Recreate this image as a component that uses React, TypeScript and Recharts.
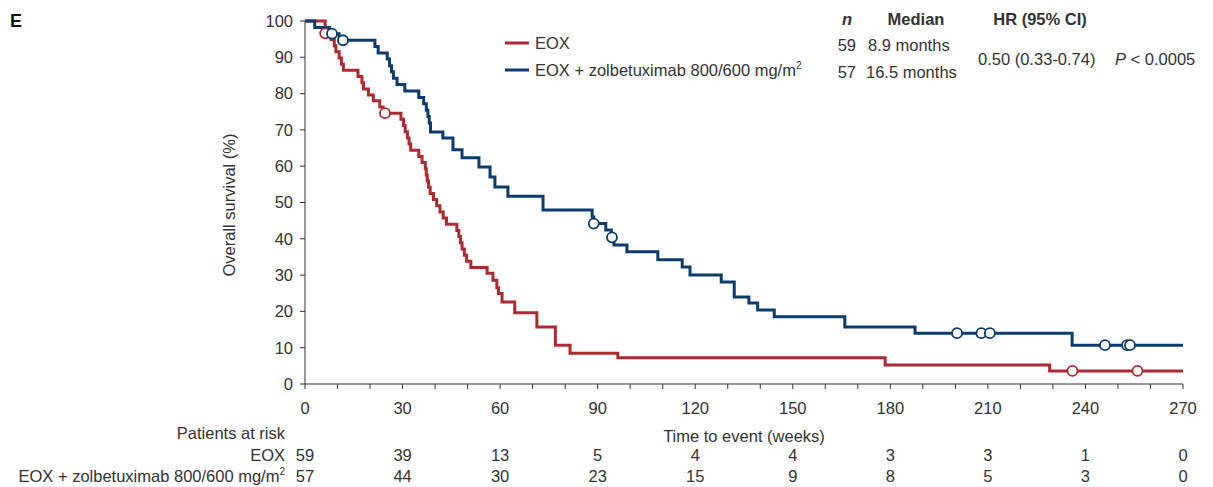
import React from "react";
import { ComposedChart, Line, Scatter, XAxis, YAxis } from "recharts";

// Kaplan-Meier steps: [week, survival %]
const eoxSteps: [number, number][] = [
  [0, 100], [6.2, 96.6], [8, 94.9], [9, 93.2], [9.5, 91.5], [10.5, 89.8], [11.2, 88.1],
  [11.8, 86.4], [16.3, 84.7], [17.5, 83.0], [18, 81.3], [19.5, 79.6], [21, 78.0], [23, 76.3],
  [24, 74.6], [29.5, 72.9], [30.3, 71.2], [30.8, 69.5], [31.5, 67.8], [32, 66.1], [32.5, 64.4],
  [35, 62.7], [36, 61.0], [37, 59.3], [37.3, 57.6], [37.6, 55.9], [38, 54.2], [38.5, 52.5],
  [39.5, 50.8], [40.5, 49.1], [41.5, 47.4], [42.5, 45.7], [43.5, 44.0], [46.7, 42.3],
  [47.3, 40.6], [47.8, 38.9], [48.3, 37.2], [49, 35.5], [49.7, 33.8], [51, 32.1], [56, 30.5],
  [57.8, 28.6], [59, 26.5], [59.5, 24.9], [60.6, 22.6], [64.5, 19.6], [71.3, 15.7],
  [77, 10.7], [81.5, 8.5], [96.2, 7.2], [178.4, 5.2], [229, 3.6], [270, 3.6],
];
const eoxCensored: [number, number][] = [[6.2, 96.6], [24.6, 74.6], [236, 3.6], [256, 3.6]];

const zolSteps: [number, number][] = [
  [0, 100], [3, 98.2], [7.5, 96.5], [10.5, 94.7], [21.5, 93.0], [22.5, 91.2], [25.3, 89.5],
  [26, 87.7], [26.6, 86.0], [27.2, 84.2], [28.3, 82.5], [30.7, 80.7], [35, 78.9], [36.5, 77.2],
  [37.3, 75.4], [37.8, 73.7], [38.2, 71.9], [38.6, 69.4], [42.4, 67.8], [45.5, 64.5],
  [48.3, 62.3], [53.5, 59.8], [56.9, 57.0], [58.4, 54.3], [62.4, 51.7], [73.2, 47.9],
  [88.3, 46.0], [88.8, 44.2], [92.5, 42.4], [94.2, 40.4], [95, 38.3], [99, 36.4],
  [108.5, 34.2], [116, 32.2], [118.4, 30.0], [128, 28.1], [132, 24.0], [136.5, 22.3],
  [139.2, 20.4], [144.3, 18.5], [166, 15.7], [187.6, 14.0], [235.9, 10.7], [270, 10.7],
];
const zolCensored: [number, number][] = [
  [8.3, 96.5], [11.7, 94.7], [88.8, 44.2], [94.4, 40.4], [200.5, 14.0], [208, 14.0],
  [210.6, 14.0], [246, 10.7], [252.8, 10.7], [253.7, 10.7],
];

const xTicks = [0, 10, 20, 30, 40, 50, 60, 70, 80, 90, 100, 110, 120, 130, 140, 150, 160, 170, 180, 190, 200, 210, 220, 230, 240, 250, 260, 270];
const xLabels = [0, 30, 60, 90, 120, 150, 180, 210, 240, 270];
const yTicks = [0, 10, 20, 30, 40, 50, 60, 70, 80, 90, 100];
const atRiskEox = [59, 39, 13, 5, 4, 4, 3, 3, 1, 0];
const atRiskZol = [57, 44, 30, 23, 15, 9, 8, 5, 3, 0];

const RED = "#ad2a30";
const BLUE = "#0c3c6e";
const TEXT = "#333";
const FONT = "'Liberation Sans', Arial, sans-serif";
const FS = 16.5;

const toRows = (arr: [number, number][]) => arr.map(([t, s]) => ({ t, s }));

const censorShape = (color: string) => (props: any) => (
  <circle cx={props.cx} cy={props.cy} r={5} fill="#fff" stroke={color} strokeWidth={1.8} />
);

const XTick = (props: any) => {
  const { x, y, payload } = props;
  const i = xLabels.indexOf(payload.value);
  if (i < 0) return null;
  return (
    <g fontFamily={FONT} fontSize={FS} fill={TEXT} textAnchor="middle">
      <text x={x} y={y + 25}>{payload.value}</text>
      <text x={x} y={y + 72}>{atRiskEox[i]}</text>
      <text x={x} y={y + 93}>{atRiskZol[i]}</text>
    </g>
  );
};

export default function App() {
  return (
    <div style={{ position: "absolute", left: 0, top: 0, width: 1213, height: 487, background: "#fff" }}>
      <ComposedChart width={1213} height={487} margin={{ top: 21, right: 30, bottom: 73, left: 245 }}>
        <XAxis
          type="number"
          dataKey="t"
          domain={[0, 270]}
          ticks={xTicks}
          interval={0}
          stroke={TEXT}
          tickSize={5}
          tickMargin={0}
          height={30}
          tick={<XTick />}
          allowDuplicatedCategory={false}
        />
        <YAxis
          type="number"
          domain={[0, 100]}
          ticks={yTicks}
          interval={0}
          width={60}
          stroke={TEXT}
          tickSize={5}
          tickMargin={7}
          tick={{ fill: TEXT, fontSize: FS, fontFamily: FONT }}
        />
        <Line data={toRows(eoxSteps)} dataKey="s" type="stepAfter" stroke={RED} strokeWidth={3} dot={false} isAnimationActive={false} />
        <Line data={toRows(zolSteps)} dataKey="s" type="stepAfter" stroke={BLUE} strokeWidth={3} dot={false} isAnimationActive={false} />
        <Scatter data={toRows(eoxCensored)} dataKey="s" shape={censorShape(RED)} isAnimationActive={false} />
        <Scatter data={toRows(zolCensored)} dataKey="s" shape={censorShape(BLUE)} isAnimationActive={false} />
      </ComposedChart>
      <svg width={1213} height={487} style={{ position: "absolute", left: 0, top: 0, pointerEvents: "none" }} fontFamily={FONT} fill={TEXT} fontSize={FS}>
        <text x={10} y={27} fontSize={18} fontWeight="bold" fill="#111">E</text>
        <line x1={505} x2={529} y1={43} y2={43} stroke={RED} strokeWidth={3} />
        <text x={535} y={49}>EOX</text>
        <line x1={505} x2={529} y1={70} y2={70} stroke={BLUE} strokeWidth={3} />
        <text x={535} y={76}>EOX + zolbetuximab 800/600 mg/m<tspan dy={-7} fontSize={10}>2</tspan></text>
        <text x={847} y={25} fontWeight="bold" fontStyle="italic" textAnchor="middle">n</text>
        <text x={916} y={25} fontWeight="bold" textAnchor="middle">Median</text>
        <text x={1040} y={25} fontWeight="bold" textAnchor="middle">HR (95% CI)</text>
        <text x={856} y={51} textAnchor="end">59</text>
        <text x={868} y={51}>8.9 months</text>
        <text x={856} y={78} textAnchor="end">57</text>
        <text x={866} y={78}>16.5 months</text>
        <text x={978} y={65}>0.50 (0.33-0.74)</text>
        <text x={1115} y={65}><tspan fontStyle="italic">P</tspan> &lt; 0.0005</text>
        <text transform="translate(235,205) rotate(-90)" textAnchor="middle">Overall survival (%)</text>
        <text x={744} y={442} textAnchor="middle">Time to event (weeks)</text>
        <text x={285} y={439} textAnchor="end">Patients at risk</text>
        <text x={285} y={461} textAnchor="end">EOX</text>
        <text x={285} y={482} textAnchor="end">EOX + zolbetuximab 800/600 mg/m<tspan dy={-7} fontSize={10}>2</tspan></text>
      </svg>
    </div>
  );
}
